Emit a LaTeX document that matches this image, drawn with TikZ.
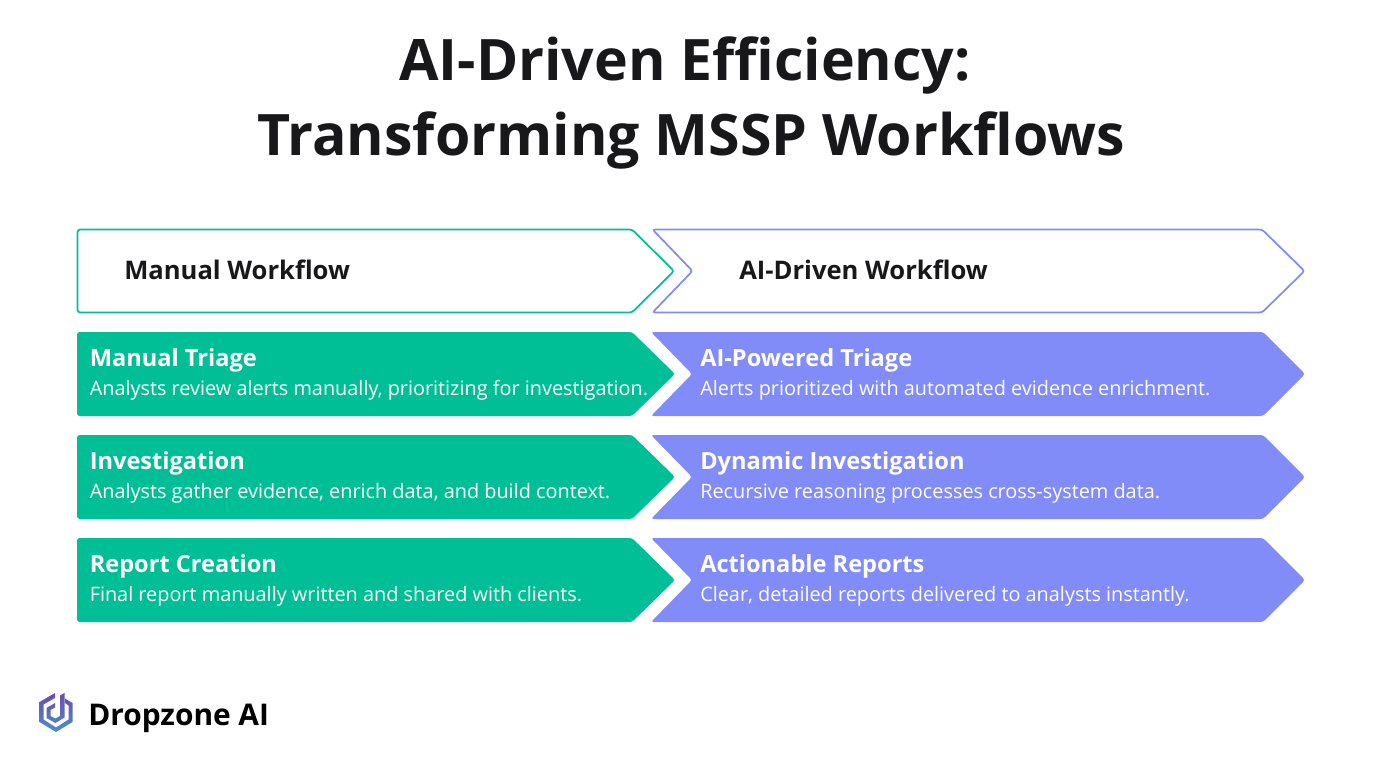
\documentclass[tikz,border=0pt]{standalone}
\usepackage{fontspec}
\setmainfont{Open Sans}
\usepackage{xcolor}
\usetikzlibrary{positioning, calc}
\definecolor{bodyText}{HTML}{18181B}
\definecolor{manualGreen}{HTML}{00BF96}
\definecolor{aiViolet}{HTML}{818CF8}
\definecolor{logoTop}{HTML}{6D4AB0}
\definecolor{logoBot}{HTML}{4A90C8}

\begin{document}
\begin{tikzpicture}[
  x=0.75pt, y=-0.75pt,
  titletext/.style={font=\fontsize{42.9}{56}\selectfont\bfseries, text=bodyText, align=center},
  headtext/.style={font=\fontsize{19.2}{24}\selectfont\bfseries, text=bodyText, anchor=west, inner sep=0pt},
  rowhead/.style={font=\fontsize{17.7}{22}\selectfont\bfseries, text=white, anchor=west, inner sep=0pt},
  rowbody/.style={font=\fontsize{14.9}{18}\selectfont, text=white, anchor=west, inner sep=0pt},
  leftline/.style={draw=manualGreen, line width=1.3pt, fill=white, rounded corners=2pt},
  rightline/.style={draw=aiViolet, line width=1.3pt, fill=white, rounded corners=2pt},
  leftfill/.style={fill=manualGreen, rounded corners=2pt},
  rightfill/.style={fill=aiViolet, rounded corners=2pt},
]
  \useasboundingbox (0,0) rectangle (1383,770);

  \node[titletext] at (691,103) (title) {AI-Driven Efficiency:\hspace*{9pt}\\Transforming MSSP Workflows};

  % header chevrons
  \draw[leftline] (77.5,229.5) -- (632,229.5) -- (674,271) -- (632,312.5) -- (77.5,312.5) -- cycle;
  \draw[rightline] (652.5,229.5) -- (1262,229.5) -- (1304.5,271) -- (1262,312.5) -- (652.5,312.5) -- (692.5,271) -- cycle;
  \node[headtext] at (124,270) (manual) {Manual Workflow};
  \node[headtext] at (739,270) (aidriven) {AI-Driven Workflow};

  % first row
  \fill[leftfill] (77,332) -- (632,332) -- (675,374) -- (632,416) -- (77,416) -- cycle;
  \fill[rightfill] (651,332) -- (1263,332) -- (1305,374) -- (1263,416) -- (651,416) -- (692,374) -- cycle;
  \node[rowhead] at (89.5,360) (triage) {Manual Triage};
  \node[rowbody] at (89.5,390) (triagetxt) {Analysts review alerts manually, prioritizing for investigation.};
  \node[rowhead] at (700,360) (aitriage) {AI-Powered Triage};
  \node[rowbody] at (700,390) (aitriagetxt) {Alerts prioritized with automated evidence enrichment.};

  % second row
  \fill[leftfill] (77,435) -- (632,435) -- (675,477) -- (632,519) -- (77,519) -- cycle;
  \fill[rightfill] (651,435) -- (1263,435) -- (1305,477) -- (1263,519) -- (651,519) -- (692,477) -- cycle;
  \node[rowhead] at (89.5,463) (invest) {Investigation};
  \node[rowbody] at (89.5,493) (investtxt) {Analysts gather evidence, enrich data, and build context.};
  \node[rowhead] at (700,463) (aiinvest) {Dynamic Investigation};
  \node[rowbody] at (700,493) (aiinvesttxt) {Recursive reasoning processes cross-system data.};

  % third row
  \fill[leftfill] (77,538) -- (632,538) -- (675,580) -- (632,622) -- (77,622) -- cycle;
  \fill[rightfill] (651,538) -- (1263,538) -- (1305,580) -- (1263,622) -- (651,622) -- (692,580) -- cycle;
  \node[rowhead] at (89.5,566) (report) {Report Creation};
  \node[rowbody] at (89.5,596) (reporttxt) {Final report manually written and shared with clients.};
  \node[rowhead] at (700,566) (aireport) {Actionable Reports};
  \node[rowbody] at (700,596) (aireporttxt) {Clear, detailed reports delivered to analysts instantly.};

  % logo
  \node[font=\fontsize{22.4}{28}\selectfont\bfseries, text=black, anchor=west, inner sep=0pt] at (88,718) (brand) {Dropzone AI};
  \path[top color=logoTop, bottom color=logoBot]
    (55,693) -- (39.5,702) -- (39.5,722) -- (56,732) -- (72.5,722) -- (72.5,703) -- (65,698.5)
    -- (65,703) -- (68.5,705.5) -- (68.5,719.5) -- (56,727.5) -- (43.5,719.5) -- (43.5,704.5) -- (55,698) -- cycle
    (64.5,693) -- (64.5,717.5) -- (55.5,723) -- (46.5,718) -- (46.5,708) -- (55,703) -- (55,707.5)
    -- (50.5,710) -- (50.5,716) -- (55.5,718.5) -- (60,716) -- (60,695.5) -- cycle;
\end{tikzpicture}
\end{document}
